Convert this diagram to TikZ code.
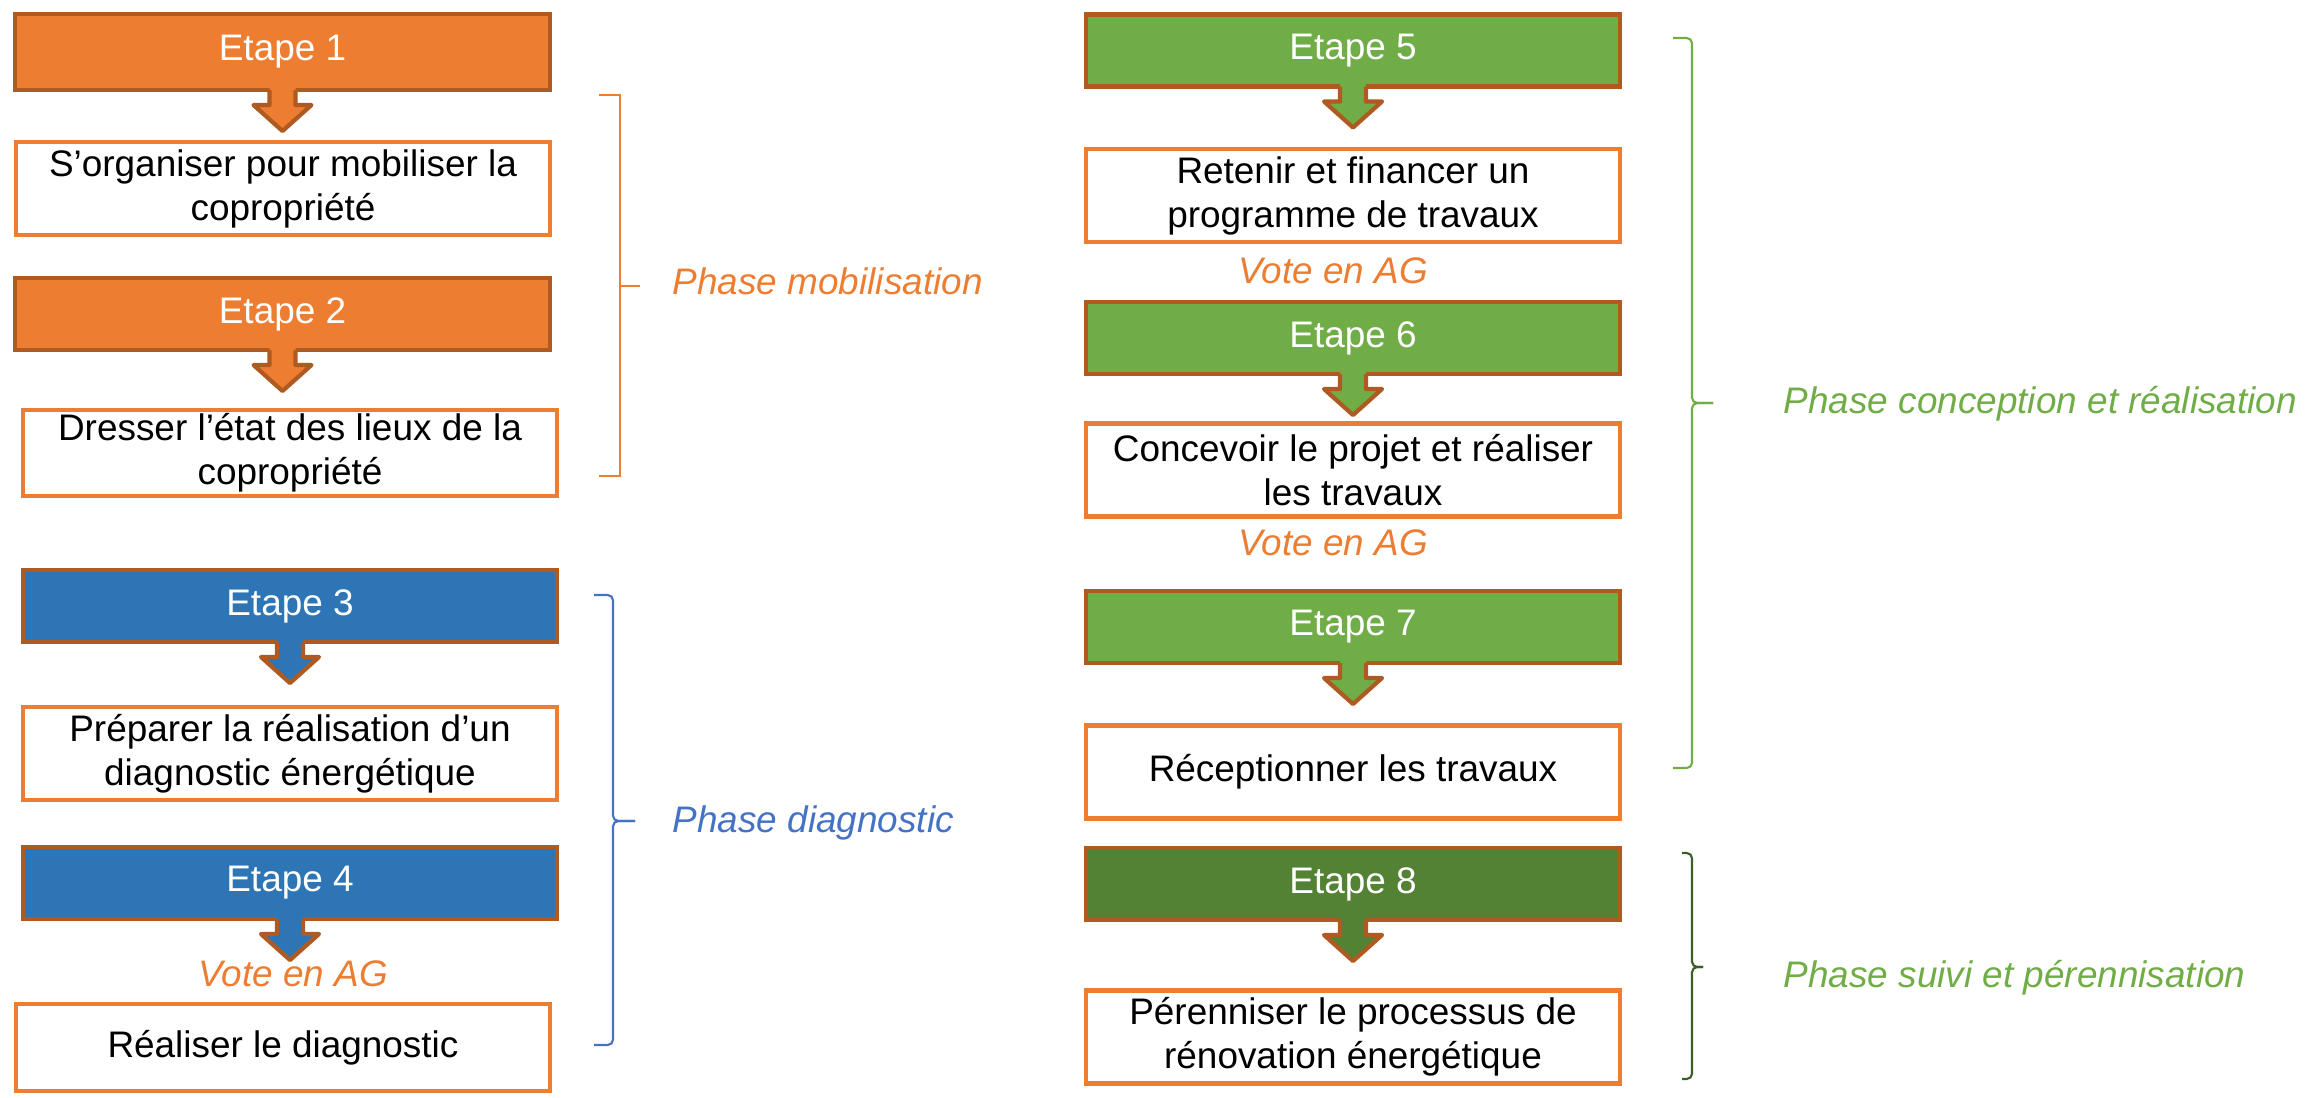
\documentclass[tikz,border=0pt]{standalone}
\usepackage{fontspec}
\setmainfont{Liberation Sans}
\usetikzlibrary{calc}

\definecolor{orangeetape}{HTML}{ED7D31}
\definecolor{bordetape}{HTML}{AE5A21}
\definecolor{bleuetape}{HTML}{2E75B6}
\definecolor{vertetape}{HTML}{70AD47}
\definecolor{vertfonce}{HTML}{548235}
\definecolor{bleuphase}{HTML}{4472C4}
\definecolor{vertsombre}{HTML}{3B5E2B}

% block arrow below an etape box: #1 node, #2 fill colour
\newcommand{\etapearrow}[2]{%
	\fill[#2] ($(#1.south)+(-13,-3)$) -- ($(#1.south)+(-13,15)$) -- ($(#1.south)+(-29,15)$)
		-- ($(#1.south)+(0,41)$) -- ($(#1.south)+(29,15)$) -- ($(#1.south)+(13,15)$)
		-- ($(#1.south)+(13,-3)$) -- cycle;
	\draw[bordetape,line width=1.2pt,line join=round] ($(#1.south)+(-13,0)$) -- ($(#1.south)+(-13,15)$)
		-- ($(#1.south)+(-29,15)$) -- ($(#1.south)+(0,41)$) -- ($(#1.south)+(29,15)$)
		-- ($(#1.south)+(13,15)$) -- ($(#1.south)+(13,0)$);
}
% brace: #1 colour, #2 x left, #3 x line, #4 x tip, #5 y top, #6 y middle, #7 y bottom
\newcommand{\phasebrace}[7]{%
	\draw[accolade=#1] (#2,#5) -- (#3,#5) -- (#3,#6) -- (#4,#6);
	\draw[accolade=#1] (#4,#6) -- (#3,#6) -- (#3,#7) -- (#2,#7);
}

\begin{document}
\begin{tikzpicture}[x=0.01cm,y=-0.01cm,
	every node/.style={font=\fontsize{10.5}{12.5}\selectfont},
	etape/.style={rectangle,draw=bordetape,line width=1.2pt,fill=#1,text=white,
		minimum width=5.34cm,minimum height=0.72cm,inner sep=0pt,outer sep=0pt},
	tache/.style={rectangle,draw=orangeetape,line width=1.2pt,fill=white,align=center,
		minimum width=5.34cm,minimum height=0.93cm,inner sep=0pt,outer sep=0pt},
	vote/.style={text=orangeetape,font=\fontsize{10.5}{12.5}\selectfont\itshape,anchor=base},
	phase/.style={text=#1,font=\fontsize{10.5}{12.5}\selectfont\itshape,anchor=base west,inner sep=0pt},
	accolade/.style={draw=#1,line width=0.6pt,rounded corners=1.5pt}]
	\useasboundingbox (0,0) rectangle (2307,1098);

	% left column
	\node[etape=orangeetape,minimum height=0.76cm] (e1) at (282.5,52) {Etape 1};
	\node[tache] (t1) at (283,188.5) {S’organiser pour mobiliser la\\copropriété};
	\node[etape=orangeetape] (e2) at (282.5,314) {Etape 2};
	\node[tache,minimum height=0.86cm] (t2) at (290,453) {Dresser l’état des lieux de la\\copropriété};
	\node[etape=bleuetape] (e3) at (290,606) {Etape 3};
	\node[tache] (t3) at (290,753.5) {Préparer la réalisation d’un\\diagnostic énergétique};
	\node[etape=bleuetape] (e4) at (290,883) {Etape 4};
	\node[vote] (v1) at (293,986) {Vote en AG};
	\node[tache,minimum height=0.87cm] (t4) at (283,1047.5) {Réaliser le diagnostic};

	% right column
	\node[etape=vertetape] (e5) at (1353,50.5) {Etape 5};
	\node[tache] (t5) at (1353,195.5) {Retenir et financer un\\programme de travaux};
	\node[vote] (v2) at (1333,284) {Vote en AG};
	\node[etape=vertetape] (e6) at (1353,338) {Etape 6};
	\node[tache] (t6) at (1353,470) {Concevoir le projet et réaliser\\les travaux};
	\node[vote] (v3) at (1333,556) {Vote en AG};
	\node[etape=vertetape] (e7) at (1353,627) {Etape 7};
	\node[tache] (t7) at (1353,772) {Réceptionner les travaux};
	\node[etape=vertfonce] (e8) at (1353,884) {Etape 8};
	\node[tache] (t8) at (1353,1037) {Pérenniser le processus de\\rénovation énergétique};

	\etapearrow{e1}{orangeetape}
	\etapearrow{e2}{orangeetape}
	\etapearrow{e3}{bleuetape}
	\etapearrow{e4}{bleuetape}
	\etapearrow{e5}{vertetape}
	\etapearrow{e6}{vertetape}
	\etapearrow{e7}{vertetape}
	\etapearrow{e8}{vertfonce}

	% phases
	\draw[orangeetape,line width=0.6pt] (599,95) -- (620,95) -- (620,476) -- (599,476);
	\draw[orangeetape,line width=0.6pt] (620,286) -- (640,286);
	\node[phase=orangeetape] (p1) at (672,295) {Phase mobilisation};
	\phasebrace{bleuphase}{594}{613}{635}{595}{821}{1045}
	\node[phase=bleuphase] (p2) at (672,832) {Phase diagnostic};
	\phasebrace{vertetape}{1673}{1692}{1713}{38}{403}{768}
	\node[phase=vertetape] (p3) at (1783,414) {Phase conception et réalisation};
	\phasebrace{vertsombre}{1682}{1692}{1703}{853}{967}{1079}
	\node[phase=vertetape] (p4) at (1783,987) {Phase suivi et pérennisation};
\end{tikzpicture}
\end{document}
